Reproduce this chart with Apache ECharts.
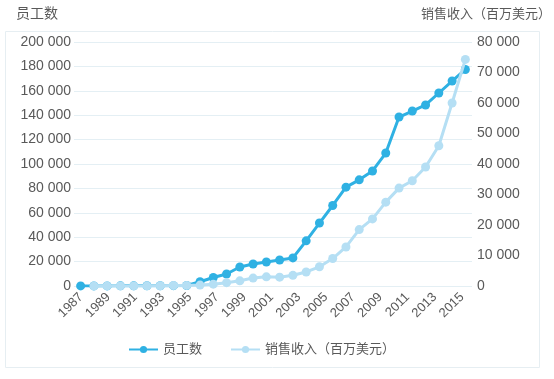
<!DOCTYPE html>
<html>
<head>
<meta charset="utf-8">
<script src="https://cdn.jsdelivr.net/npm/echarts@6/dist/echarts.min.js"></script>
<style>
html,body{margin:0;padding:0;background:#fff;}
#c{width:554px;height:379px;}
</style>
</head>
<body>
<div id="c"></div>
<script>
// Years of the data points (30 points)
var years = ['1987','1988','1989','1990','1991','1992','1993','1994','1995','1996',
             '1997','1998','1999','2000','2001','2002','2003','2004','2005','2006',
             '2007','2008','2009','2010','2011','2012','2013','2014','2015','2016'];
// Tick labels printed under the axis in the reference
var tickLabels = ['1987','1989','1991','1993','1995','1997','1999','2001','2003',
                  '2005','2007','2009','2011','2013','2015'];
// 员工数
var employees = [50,80,100,120,150,200,250,300,400,3500,
                 7000,9800,15600,18000,19700,21300,23000,37000,51600,66000,
                 81000,87000,94300,109000,138500,143400,148400,158200,168000,177500];
// 销售收入（百万美元）
var revenue = ['-',10,20,30,40,60,100,150,200,300,
               600,1100,1700,2600,3000,2900,3500,4600,6300,9000,
               12800,18500,22000,27500,32100,34500,39000,46000,60000,74300];

var leftName = '员工数';
var rightName = '销售收入（百万美元）';

function fmt(v){ return String(v).replace(/\B(?=(\d{3})+(?!\d))/g, ' '); }

var FONT = 'Liberation Sans, Noto Sans CJK SC, sans-serif';
var TXT = '#595959';
var DARK = '#2fb1e3';
var LIGHT = '#b5dff4';

var chart = echarts.init(document.getElementById('c'), null, {renderer:'canvas'});
chart.setOption({
  backgroundColor: '#ffffff',
  animation: false,
  textStyle: {fontFamily: FONT},
  graphic: [{
    type: 'rect', left: 3, top: 29, silent: true, z: -10,
    shape: {width: 534, height: 336},
    style: {fill: 'none', stroke: '#e6eef2', lineWidth: 1}
  }],
  grid: [
    {left: 74, right: 80, top: 42, bottom: 93},
    {left: 81, right: 92, top: 42, bottom: 93}
  ],
  legend: {
    left: 123, top: 338,
    itemWidth: 29, itemHeight: 9, itemGap: 28,
    textStyle: {color: TXT, fontSize: 13, fontFamily: FONT},
    data: [leftName, rightName]
  },
  xAxis: [
    {
      type: 'category', gridIndex: 0, data: years, boundaryGap: true,
      axisLine: {show: false}, axisTick: {show: false}, axisLabel: {show: false},
      splitLine: {show: false}
    },
    {
      type: 'category', gridIndex: 1, data: tickLabels, boundaryGap: false,
      axisLine: {show: false}, axisTick: {show: false},
      axisLabel: {interval: 0, rotate: 45, margin: 9, color: TXT, fontSize: 13, fontFamily: FONT},
      splitLine: {show: false}
    }
  ],
  yAxis: [
    {
      type: 'value', gridIndex: 0, min: 0, max: 200000, interval: 20000,
      name: leftName, nameLocation: 'end', nameGap: 21,
      nameTextStyle: {color: TXT, fontSize: 14, fontFamily: FONT, align: 'center', padding: [0, 74, 0, 0]},
      axisLine: {show: false}, axisTick: {show: false},
      axisLabel: {color: TXT, fontSize: 14, margin: 3, formatter: fmt},
      splitLine: {show: true, lineStyle: {color: '#e4eff4', width: 1}}
    },
    {
      type: 'value', gridIndex: 0, min: 0, max: 80000, interval: 10000, position: 'right',
      name: rightName, nameLocation: 'end', nameGap: 21,
      nameTextStyle: {color: TXT, fontSize: 13, fontFamily: FONT, align: 'center', padding: [0, 0, 0, 28]},
      axisLine: {show: false}, axisTick: {show: false},
      axisLabel: {color: TXT, fontSize: 14, margin: 5, formatter: fmt},
      splitLine: {show: false}
    },
    {
      type: 'value', gridIndex: 1, min: 0, max: 1, show: false
    }
  ],
  series: [
    {
      name: leftName, type: 'line', xAxisIndex: 0, yAxisIndex: 0, data: employees,
      symbol: 'circle', symbolSize: 9, showAllSymbol: true, z: 2,
      lineStyle: {color: DARK, width: 3}, itemStyle: {color: DARK}
    },
    {
      name: rightName, type: 'line', xAxisIndex: 0, yAxisIndex: 1, data: revenue,
      symbol: 'circle', symbolSize: 9, showAllSymbol: true, z: 3,
      lineStyle: {color: LIGHT, width: 3}, itemStyle: {color: LIGHT}
    }
  ]
});
</script>
</body>
</html>
